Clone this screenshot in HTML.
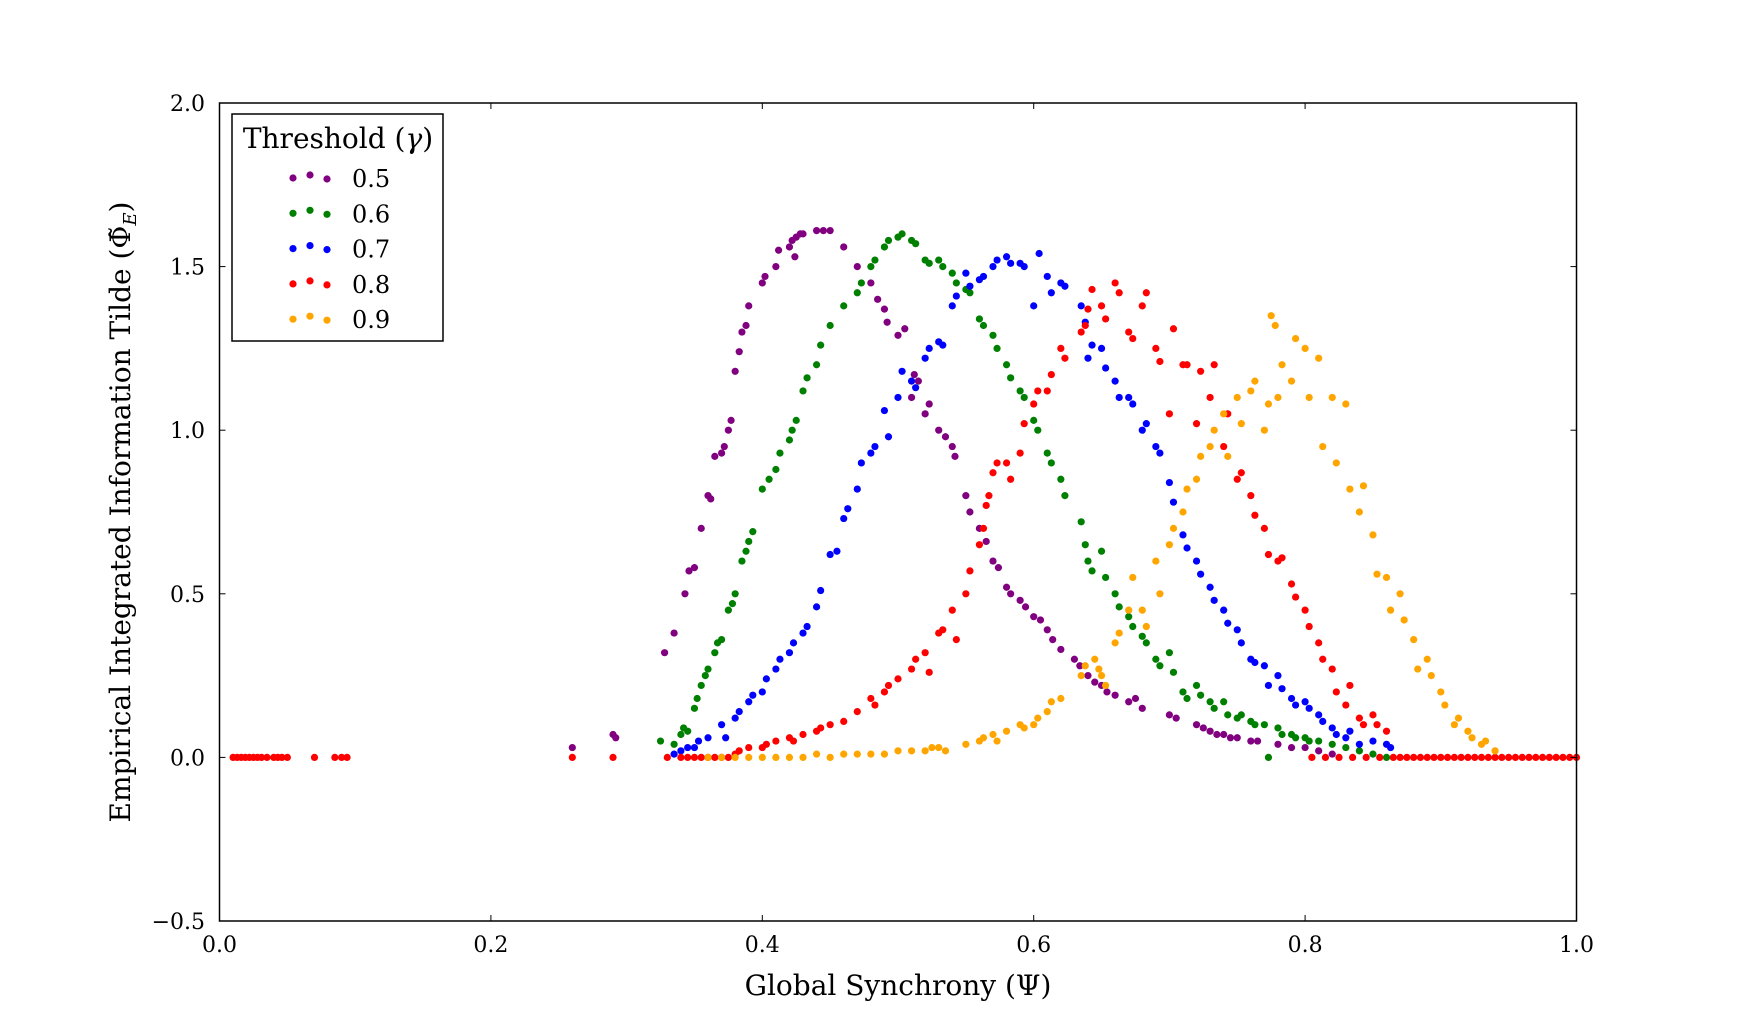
<!DOCTYPE html>
<html><head><meta charset="utf-8"><style>
body{margin:0;background:#fff;width:1751px;height:1023px;overflow:hidden}
text{font-family:"DejaVu Serif","Liberation Serif",serif;fill:#000}
</style></head><body>
<svg id="chart" width="1751" height="1023" xmlns="http://www.w3.org/2000/svg">
<g id="marks"></g>
<rect x="219.5" y="103" width="1357" height="818" fill="none" stroke="#000" stroke-width="1.5"/>
<g id="ticks"></g>
<text x="898" y="995" font-size="28" text-anchor="middle">Global Synchrony (Ψ)</text>
<text transform="translate(130,512) rotate(-90)" font-size="28" text-anchor="middle">Empirical Integrated Information Tilde (Φ̃<tspan font-style="italic" font-size="18" dy="6">E</tspan><tspan dy="-6">)</tspan></text>
<g>
<rect x="232" y="114" width="211" height="227" fill="#fff" stroke="#000" stroke-width="1.5"/>
<text x="338" y="148" font-size="28" text-anchor="middle">Threshold (<tspan font-style="italic">γ</tspan>)</text>
<g id="legend-entries"></g>
</g>
</svg>
<script>
const categories=["0.5","0.6","0.7","0.8","0.9"];
const colors=["#800080","#008000","#0000ff","#ff0000","#ffa500"];
const xTicks=[0,0.2,0.4,0.6,0.8,1.0];
const xTickLabels=["0.0","0.2","0.4","0.6","0.8","1.0"];
const yTicks=[-0.5,0,0.5,1.0,1.5,2.0];
const yTickLabels=["\u22120.5","0.0","0.5","1.0","1.5","2.0"];
const purpleX=[0.26,0.29,0.292,0.328,0.335,0.343,0.346,0.35,0.355,0.36,0.362,0.365,0.37,0.372,0.375,0.377,0.38,0.383,0.385,0.388,0.39,0.40,0.402,0.41,0.412,0.42,0.422,0.424,0.425,0.428,0.43,0.44,0.445,0.45,0.46,0.47,0.48,0.485,0.49,0.492,0.50,0.505,0.51,0.512,0.515,0.52,0.523,0.53,0.535,0.54,0.542,0.55,0.553,0.56,0.565,0.57,0.574,0.58,0.583,0.59,0.594,0.60,0.605,0.61,0.614,0.62,0.63,0.634,0.64,0.645,0.65,0.654,0.66,0.67,0.675,0.68,0.70,0.705,0.72,0.725,0.73,0.735,0.74,0.745,0.75,0.76,0.765,0.78,0.79,0.80,0.81,0.82];
const purpleY=[0.03,0.07,0.06,0.32,0.38,0.5,0.57,0.58,0.7,0.8,0.79,0.92,0.93,0.95,1.0,1.03,1.18,1.24,1.3,1.32,1.38,1.45,1.47,1.5,1.55,1.56,1.58,1.53,1.59,1.6,1.6,1.61,1.61,1.61,1.56,1.5,1.45,1.4,1.37,1.33,1.29,1.31,1.1,1.17,1.15,1.05,1.08,1.0,0.98,0.95,0.92,0.8,0.75,0.7,0.66,0.6,0.58,0.52,0.5,0.48,0.46,0.43,0.42,0.39,0.36,0.33,0.3,0.28,0.25,0.23,0.22,0.2,0.19,0.17,0.18,0.15,0.13,0.12,0.1,0.09,0.08,0.07,0.07,0.06,0.06,0.05,0.05,0.04,0.03,0.03,0.02,0.01];
const greenX=[0.325,0.335,0.34,0.342,0.345,0.35,0.352,0.355,0.358,0.36,0.365,0.367,0.37,0.375,0.378,0.38,0.385,0.388,0.39,0.393,0.40,0.405,0.41,0.413,0.42,0.422,0.425,0.43,0.433,0.44,0.443,0.45,0.46,0.47,0.473,0.48,0.483,0.49,0.493,0.50,0.503,0.51,0.513,0.52,0.523,0.53,0.533,0.54,0.543,0.55,0.553,0.56,0.563,0.57,0.573,0.58,0.583,0.59,0.593,0.60,0.603,0.61,0.613,0.62,0.623,0.635,0.638,0.64,0.643,0.65,0.653,0.66,0.663,0.67,0.673,0.68,0.683,0.69,0.693,0.70,0.703,0.71,0.713,0.72,0.723,0.73,0.733,0.74,0.743,0.75,0.753,0.76,0.763,0.77,0.773,0.78,0.783,0.79,0.793,0.80,0.803,0.81,0.82,0.83,0.84,0.85,0.86];
const greenY=[0.05,0.04,0.07,0.09,0.08,0.15,0.18,0.22,0.25,0.27,0.32,0.35,0.36,0.45,0.47,0.5,0.6,0.63,0.66,0.69,0.82,0.85,0.88,0.93,0.97,1.0,1.03,1.12,1.16,1.2,1.26,1.32,1.38,1.42,1.45,1.5,1.52,1.56,1.58,1.59,1.6,1.58,1.57,1.52,1.51,1.52,1.5,1.48,1.45,1.43,1.42,1.34,1.32,1.29,1.25,1.2,1.16,1.12,1.1,1.03,1.0,0.93,0.9,0.85,0.8,0.72,0.65,0.6,0.57,0.63,0.55,0.5,0.46,0.43,0.4,0.37,0.35,0.3,0.28,0.32,0.26,0.2,0.18,0.22,0.19,0.17,0.15,0.17,0.13,0.12,0.13,0.11,0.1,0.1,0.0,0.09,0.07,0.07,0.06,0.06,0.05,0.05,0.04,0.03,0.02,0.01,0.0];
const blueX=[0.335,0.34,0.345,0.35,0.353,0.36,0.37,0.373,0.38,0.383,0.39,0.393,0.40,0.403,0.41,0.413,0.42,0.423,0.43,0.433,0.44,0.443,0.45,0.455,0.46,0.463,0.47,0.473,0.48,0.483,0.49,0.493,0.50,0.503,0.51,0.513,0.52,0.523,0.53,0.533,0.54,0.543,0.55,0.553,0.56,0.563,0.57,0.573,0.58,0.583,0.59,0.593,0.60,0.604,0.61,0.613,0.62,0.623,0.635,0.638,0.64,0.643,0.65,0.653,0.66,0.663,0.67,0.673,0.68,0.683,0.69,0.693,0.70,0.703,0.71,0.713,0.72,0.723,0.73,0.733,0.74,0.743,0.75,0.753,0.76,0.763,0.77,0.773,0.78,0.783,0.79,0.793,0.80,0.803,0.81,0.813,0.82,0.823,0.83,0.833,0.84,0.85,0.86,0.863];
const blueY=[0.01,0.02,0.03,0.03,0.05,0.06,0.1,0.06,0.12,0.14,0.17,0.19,0.2,0.24,0.27,0.3,0.32,0.35,0.38,0.4,0.46,0.51,0.62,0.63,0.73,0.76,0.82,0.9,0.93,0.95,1.06,0.98,1.1,1.18,1.15,1.13,1.22,1.25,1.27,1.26,1.38,1.41,1.48,1.44,1.46,1.47,1.5,1.52,1.53,1.51,1.51,1.5,1.38,1.54,1.47,1.42,1.45,1.44,1.38,1.33,1.22,1.26,1.25,1.19,1.15,1.1,1.1,1.08,1.0,1.02,0.95,0.93,0.84,0.78,0.68,0.64,0.6,0.56,0.52,0.48,0.45,0.41,0.39,0.35,0.3,0.29,0.28,0.22,0.25,0.21,0.18,0.16,0.17,0.15,0.13,0.11,0.09,0.07,0.06,0.08,0.04,0.05,0.04,0.03];
const redX=[0.01,0.013,0.016,0.019,0.022,0.025,0.028,0.031,0.035,0.04,0.043,0.046,0.05,0.07,0.085,0.09,0.094,0.26,0.29,0.33,0.34,0.345,0.35,0.355,0.36,0.365,0.37,0.375,0.38,0.383,0.39,0.40,0.403,0.41,0.42,0.423,0.43,0.44,0.443,0.45,0.46,0.47,0.48,0.483,0.49,0.493,0.50,0.51,0.513,0.52,0.523,0.53,0.533,0.54,0.543,0.55,0.553,0.56,0.563,0.565,0.567,0.57,0.573,0.58,0.583,0.59,0.593,0.60,0.603,0.61,0.613,0.62,0.623,0.635,0.638,0.64,0.643,0.65,0.653,0.66,0.663,0.67,0.673,0.68,0.683,0.69,0.693,0.70,0.703,0.71,0.713,0.72,0.723,0.73,0.733,0.74,0.743,0.75,0.753,0.76,0.763,0.77,0.773,0.78,0.783,0.79,0.793,0.80,0.803,0.81,0.813,0.82,0.823,0.83,0.833,0.84,0.843,0.85,0.853,0.86,0.805,0.815,0.825,0.835,0.845,0.855,0.865,0.87,0.875,0.88,0.885,0.89,0.895,0.90,0.905,0.91,0.915,0.92,0.925,0.93,0.935,0.94,0.945,0.95,0.955,0.96,0.965,0.97,0.975,0.98,0.985,0.99,0.995,1.0];
const redY=[0,0,0,0,0,0,0,0,0,0,0,0,0,0,0,0,0,0,0,0,0,0,0,0,0,0,0,0,0.01,0.02,0.03,0.03,0.04,0.05,0.06,0.05,0.07,0.08,0.09,0.1,0.11,0.14,0.18,0.16,0.2,0.22,0.24,0.27,0.3,0.32,0.26,0.38,0.39,0.45,0.36,0.5,0.57,0.65,0.7,0.77,0.8,0.87,0.9,0.9,0.85,0.93,1.02,1.08,1.12,1.12,1.17,1.25,1.22,1.3,1.32,1.37,1.43,1.38,1.34,1.45,1.42,1.3,1.28,1.38,1.42,1.25,1.21,1.05,1.31,1.2,1.2,1.02,1.18,1.1,1.2,0.95,1.05,0.85,0.87,0.8,0.74,0.7,0.62,0.6,0.61,0.53,0.49,0.45,0.4,0.35,0.3,0.27,0.2,0.16,0.22,0.12,0.1,0.13,0.1,0.08,0,0,0,0,0,0,0,0,0,0,0,0,0,0,0,0,0,0,0,0,0,0,0,0,0,0,0,0,0,0,0,0,0,0];
const orangeX=[0.36,0.37,0.38,0.39,0.40,0.41,0.42,0.43,0.44,0.45,0.46,0.47,0.48,0.49,0.50,0.51,0.52,0.525,0.53,0.535,0.55,0.56,0.563,0.57,0.573,0.58,0.59,0.593,0.60,0.603,0.61,0.613,0.62,0.635,0.638,0.645,0.648,0.65,0.653,0.66,0.663,0.67,0.673,0.68,0.683,0.69,0.693,0.70,0.703,0.71,0.713,0.72,0.723,0.73,0.733,0.74,0.743,0.75,0.753,0.76,0.763,0.77,0.773,0.775,0.778,0.78,0.783,0.79,0.793,0.80,0.803,0.81,0.813,0.82,0.823,0.83,0.833,0.84,0.843,0.85,0.853,0.86,0.863,0.87,0.873,0.88,0.883,0.89,0.893,0.90,0.903,0.91,0.913,0.92,0.923,0.93,0.933,0.94];
const orangeY=[0,0,0,0,0,0,0,0,0.01,0,0.01,0.01,0.01,0.01,0.02,0.02,0.02,0.03,0.03,0.02,0.04,0.05,0.06,0.07,0.05,0.08,0.1,0.09,0.1,0.12,0.14,0.17,0.18,0.25,0.28,0.3,0.27,0.25,0.22,0.35,0.38,0.45,0.55,0.45,0.4,0.6,0.5,0.65,0.7,0.75,0.82,0.85,0.92,0.95,1.0,1.05,0.92,1.1,1.02,1.12,1.15,1.0,1.08,1.35,1.32,1.1,1.2,1.15,1.28,1.25,1.1,1.22,0.95,1.1,0.9,1.08,0.82,0.75,0.83,0.68,0.56,0.55,0.45,0.5,0.42,0.36,0.27,0.3,0.25,0.2,0.16,0.1,0.12,0.08,0.06,0.04,0.05,0.02];
const seriesX=[purpleX,greenX,blueX,redX,orangeX];
const seriesY=[purpleY,greenY,blueY,redY,orangeY];
const L=219.5,R=1576.5,T=103,B=921;
const sx=v=>L+(v-0)/(1-0)*(R-L);
const sy=v=>B-(v-(-0.5))/(2.5)*(B-T);
const NS="http://www.w3.org/2000/svg";
const marks=document.getElementById('marks');
for(let s=0;s<5;s++){
  const g=document.createElementNS(NS,'g');
  
  
  for(let i=0;i<seriesX[s].length;i++){
    const c=document.createElementNS(NS,'circle');
    c.setAttribute('cx',sx(seriesX[s][i]));c.setAttribute('cy',sy(seriesY[s][i]));
    c.setAttribute('r',3.6);c.setAttribute('fill',colors[s]);
    
    
    g.appendChild(c);
  }
  marks.appendChild(g);
}
const tk=document.getElementById('ticks');
function line(x1,y1,x2,y2){const l=document.createElementNS(NS,'line');l.setAttribute('x1',x1);l.setAttribute('y1',y1);l.setAttribute('x2',x2);l.setAttribute('y2',y2);l.setAttribute('stroke','#000');l.setAttribute('stroke-width','1');tk.appendChild(l);}
function txt(x,y,s,anchor,name){const t=document.createElementNS(NS,'text');t.setAttribute('x',x);t.setAttribute('y',y);t.setAttribute('font-size','22');t.setAttribute('text-anchor',anchor);t.textContent=s;


tk.appendChild(t);}
xTicks.forEach((v,i)=>{const x=sx(v);line(x,B,x,B-6);line(x,T,x,T+6);txt(x,952,xTickLabels[i],'middle','x-tick-label');});
yTicks.forEach((v,i)=>{const y=sy(v);line(L,y,L+6,y);line(R,y,R-6,y);txt(205,y+8,yTickLabels[i],'end','y-tick-label');});
const le=document.getElementById('legend-entries');
categories.forEach((c,i)=>{
  const y=178+i*35.3;
  const g=document.createElementNS(NS,'g');
  
  
  [[293,0],[310,-3],[327,1]].forEach(p=>{const d=document.createElementNS(NS,'circle');d.setAttribute('cx',p[0]);d.setAttribute('cy',y+p[1]);d.setAttribute('r',3.6);d.setAttribute('fill',colors[i]);g.appendChild(d);});
  const t=document.createElementNS(NS,'text');t.setAttribute('x',352);t.setAttribute('y',y+9);t.setAttribute('font-size','24');t.textContent=c;g.appendChild(t);
  le.appendChild(g);
});
</script>
</body></html>
